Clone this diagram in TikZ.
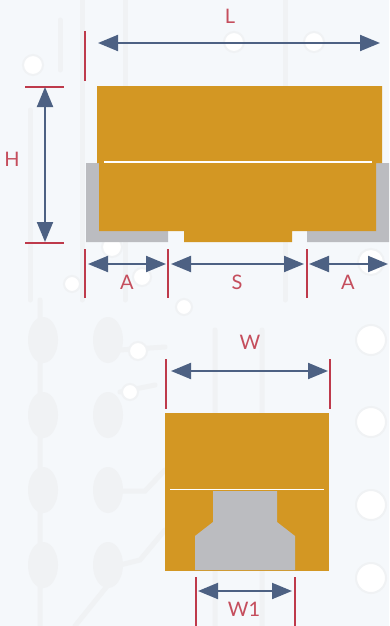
\documentclass[tikz,border=0pt]{standalone}
\usepackage{fontspec}
\usepackage{xcolor}
\setmainfont{Lato}
\usetikzlibrary{arrows.meta}
\definecolor{boardbg}{HTML}{F5F8FB}
\definecolor{trace}{HTML}{F0F2F4}
\definecolor{body}{HTML}{D39723}
\definecolor{pad}{HTML}{BBBCC0}
\definecolor{tick}{HTML}{BE3A4B}
\definecolor{dimen}{HTML}{4D6183}
\tikzset{
  tickline/.style={tick,line width=2pt},
  dimline/.style={dimen,line width=2pt,{Triangle[length=20pt,width=16pt]}-{Triangle[length=20pt,width=16pt]}},
  dimlabel/.style={text=tick!90!white,font=\fontsize{20}{20}\selectfont,inner sep=0pt},
  seam/.style={white,line width=1.7pt},
  via/.style={circle,fill=white,draw=trace,line width=2pt,minimum size=#1,inner sep=0pt},
  tracksty/.style={trace,line width=5pt,line cap=round},
  blob/.style={ellipse,fill=trace,minimum width=30pt,minimum height=46pt,inner sep=0pt}
}
\usetikzlibrary{shapes.geometric}
\begin{document}
\begin{tikzpicture}[x=1pt,y=-1pt]
\useasboundingbox (0,0) rectangle (389,626);
\fill[boardbg] (0,0) rectangle (389,626);
% board pattern
\draw[tracksty] (82,0) -- (82,300) (125,0) -- (125,300) (285,0) -- (285,300) (60,20) -- (60,70) (30,110) -- (30,300);
\draw[tracksty] (215,330) -- (215,626) (262,330) -- (262,626) (40,300) -- (40,626) (120,350) -- (165,347) (120,392) -- (155,385) (120,491) -- (145,491) -- (165,470) (120,565) -- (140,560) -- (165,530) (75,626) -- (108,585);
\foreach \bx in {43,108}
  \foreach \by in {340,415,490,565}
    \node[blob] (blob\bx\by) at (\bx,\by) {};
\foreach \px/\py/\psize in {33/65/20,234/42/20,314/42/20,112/247/20,72/284/16,142/277/18,184/307/16,138/351/18,130/392/16,371/340/30,371/422/30,371/505/30,371/578/30,371/262/26}
  \node[via=\psize pt] (via\px) at (\px,\py) {};
% side view
\fill[pad] (86,163) rectangle (168,242) (307,163) rectangle (389,242);
\fill[body] (97,86) -- (382,86) -- (382,163) -- (376,163) -- (376,231) -- (292,231) -- (292,242) -- (184,242) -- (184,231) -- (99,231) -- (99,163) -- (97,163) -- cycle;
\draw[seam] (104,162) -- (372,162);
% front view
\fill[body] (165,413) rectangle (329,571);
\fill[pad] (213,491) -- (277,491) -- (277,522) -- (295,536) -- (295,570) -- (195,570) -- (195,536) -- (213,522) -- cycle;
\draw[seam] (170,489.5) -- (324,489.5);
% ticks
\coordinate (la) at (98,43); \coordinate (lb) at (380,43);
\coordinate (ha) at (45,87); \coordinate (hb) at (45,242);
\coordinate (a1a) at (88,264); \coordinate (a1b) at (166,264);
\coordinate (sa) at (171,264); \coordinate (sb) at (304,264);
\coordinate (a2a) at (309,264); \coordinate (a2b) at (388,264);
\coordinate (wa) at (171,371); \coordinate (wb) at (328,371);
\coordinate (w1a) at (198,591); \coordinate (w1b) at (292,591);
\draw[tickline] (85,31) -- (85,81);
\draw[tickline] (25,87) -- (64,87);
\draw[tickline] (25,243) -- (64,243);
\foreach \tx in {85,168,307}
  \draw[tickline] (\tx,249) -- (\tx,298);
\foreach \tx in {166,330}
  \draw[tickline] (\tx,359) -- (\tx,409);
\foreach \tx in {196,295}
  \draw[tickline] (\tx,577) -- (\tx,626);
% dimensions
\draw[dimline] (la) -- (lb);
\draw[dimline] (ha) -- (hb);
\draw[dimline] (a1a) -- (a1b);
\draw[dimline] (sa) -- (sb);
\draw[dimline] (a2a) -- (a2b);
\draw[dimline] (wa) -- (wb);
\draw[dimline] (w1a) -- (w1b);
\node[dimlabel] (lablL) at (230,16) {L};
\node[dimlabel] (lablH) at (12,159) {H};
\node[dimlabel] (lablAa) at (127,282) {A};
\node[dimlabel] (lablS) at (237,282) {S};
\node[dimlabel] (lablAb) at (348,282) {A};
\node[dimlabel] (lablW) at (250,342) {W};
\node[dimlabel] (lablWa) at (244,609) {W1};
\end{tikzpicture}
\end{document}
